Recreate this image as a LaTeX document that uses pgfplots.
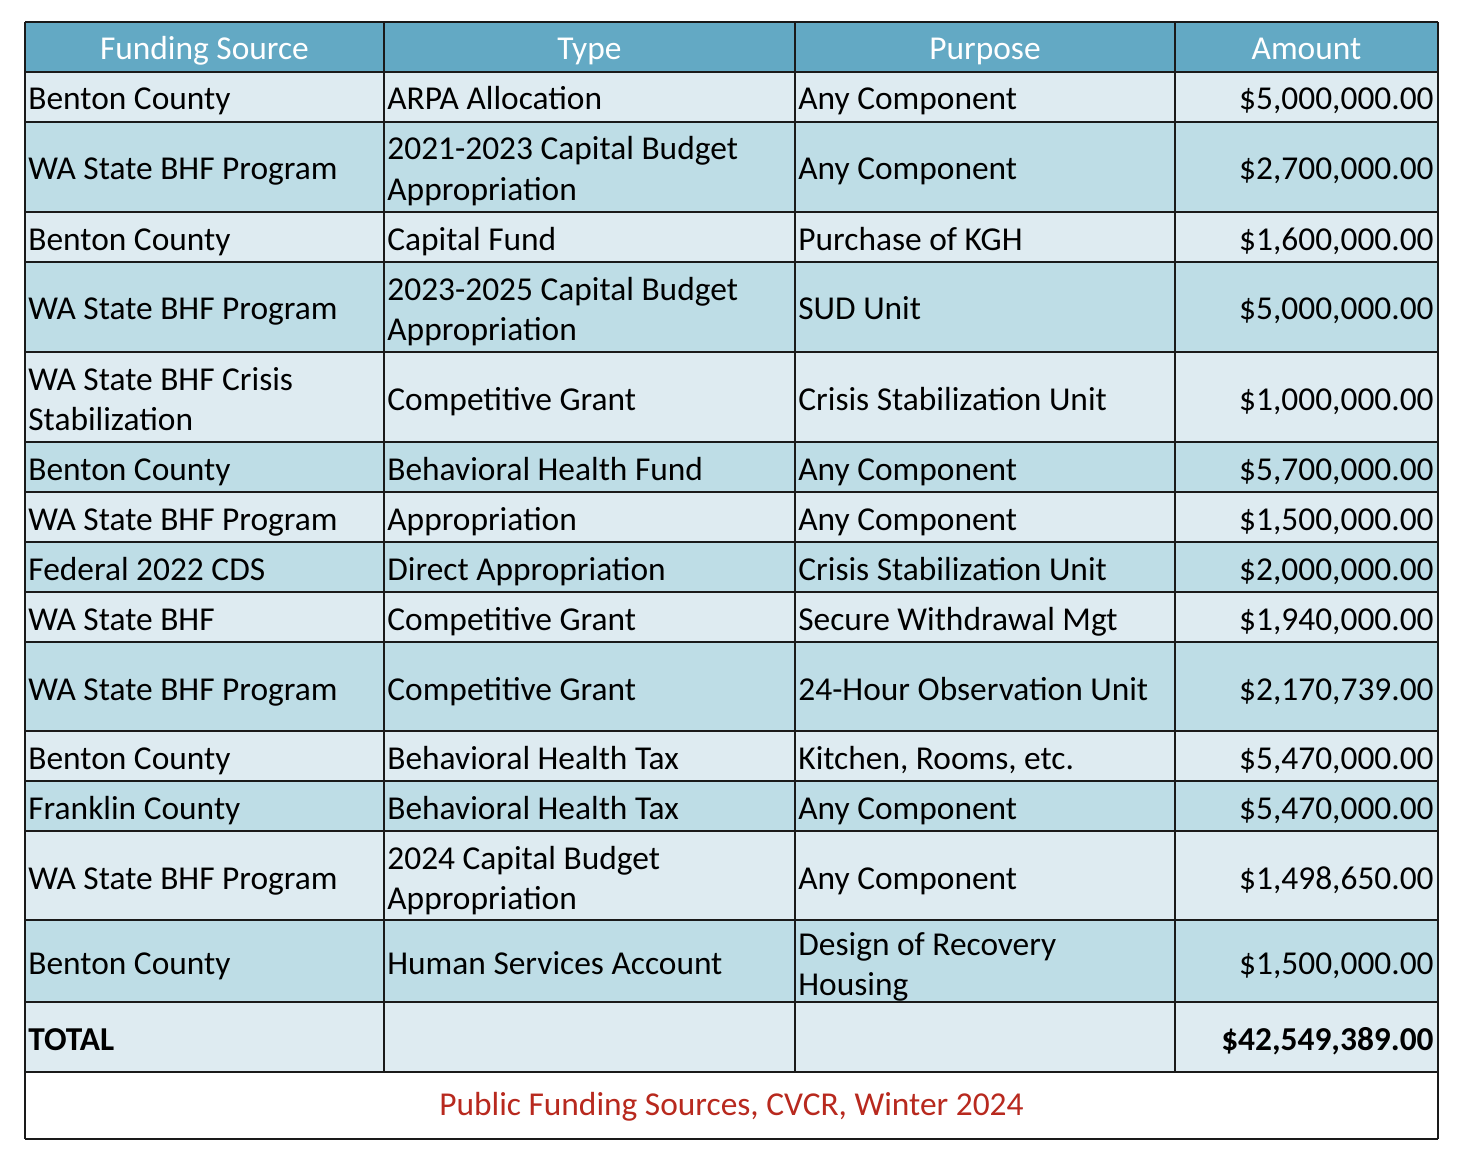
\documentclass[border=0pt]{standalone}
\usepackage{fontspec}
\setmainfont{Carlito}
\usepackage{pgfplots}
\pgfplotsset{compat=1.18}
\definecolor{headBlue}{HTML}{63A9C4}
\definecolor{rowLight}{HTML}{DEEBF1}
\definecolor{rowDark}{HTML}{BEDDE6}
\definecolor{capRed}{HTML}{B8291E}
\definecolor{ruleDark}{HTML}{1A1A1A}

% one filled band of the table, from top to bottom (pixel rows)
\newcommand{\band}[3]{\addplot[fill=#3, draw=none] coordinates {(25,#1) (1438,#1) (1438,#2) (25,#2)} -- cycle;}
\newcommand{\cellL}[3]{\node[anchor=base west, inner sep=0pt] at (axis cs:#1,#2) {#3};}
\newcommand{\cellR}[2]{\node[anchor=base east, inner sep=0pt] at (axis cs:1434,#1) {#2};}

\begin{document}
\fontsize{16.7pt}{20pt}\selectfont
\begin{tikzpicture}
\begin{axis}[
  width=729pt, height=578pt, scale only axis,
  xmin=0, xmax=1458, ymin=0, ymax=1156, y dir=reverse,
  hide axis, clip=false,
]
\addplot[draw=none, fill=white] coordinates {(0,0) (1458,0) (1458,1156) (0,1156)} -- cycle;

% bands
\band{22}{72}{headBlue}
\band{72}{122}{rowLight}
\band{122}{212}{rowDark}
\band{212}{262}{rowLight}
\band{262}{352}{rowDark}
\band{352}{442}{rowLight}
\band{442}{492}{rowDark}
\band{492}{542}{rowLight}
\band{542}{592}{rowDark}
\band{592}{642}{rowLight}
\band{642}{731}{rowDark}
\band{731}{781}{rowLight}
\band{781}{831}{rowDark}
\band{831}{920}{rowLight}
\band{920}{1002}{rowDark}
\band{1002}{1072}{rowLight}

% rules
\pgfplotsinvokeforeach{22,72,122,212,262,352,442,492,542,592,642,731,781,831,920,1002,1072,1139}{
  \addplot[ruleDark, line width=1pt] coordinates {(25,#1) (1438,#1)};
}
\pgfplotsinvokeforeach{384,795,1175}{
  \addplot[ruleDark, line width=1pt] coordinates {(#1,22) (#1,1072)};
}
\addplot[ruleDark, line width=1pt] coordinates {(25,22) (25,1139)};
\addplot[ruleDark, line width=1pt] coordinates {(1438,22) (1438,1139)};

% header
\node[anchor=base, text=white] at (axis cs:204.5,60) {Funding Source};
\node[anchor=base, text=white] at (axis cs:589.5,60) {Type};
\node[anchor=base, text=white] at (axis cs:985,60) {Purpose};
\node[anchor=base, text=white] at (axis cs:1306.5,60) {Amount};

% rows
\cellL{28}{110}{Benton County}
\cellL{387}{110}{ARPA Allocation}
\cellL{798}{110}{Any Component}
\cellR{110}{\$5,000,000.00}

\cellL{28}{180}{WA State BHF Program}
\cellL{387}{160}{2021-2023 Capital Budget}
\cellL{387}{200}{Appropriation}
\cellL{798}{180}{Any Component}
\cellR{180}{\$2,700,000.00}

\cellL{28}{250}{Benton County}
\cellL{387}{250}{Capital Fund}
\cellL{798}{250}{Purchase of KGH}
\cellR{250}{\$1,600,000.00}

\cellL{28}{320}{WA State BHF Program}
\cellL{387}{300}{2023-2025 Capital Budget}
\cellL{387}{340}{Appropriation}
\cellL{798}{320}{SUD Unit}
\cellR{320}{\$5,000,000.00}

\cellL{28}{390}{WA State BHF Crisis}
\cellL{28}{430}{Stabilization}
\cellL{387}{410}{Competitive Grant}
\cellL{798}{410}{Crisis Stabilization Unit}
\cellR{410}{\$1,000,000.00}

\cellL{28}{480}{Benton County}
\cellL{387}{480}{Behavioral Health Fund}
\cellL{798}{480}{Any Component}
\cellR{480}{\$5,700,000.00}

\cellL{28}{530}{WA State BHF Program}
\cellL{387}{530}{Appropriation}
\cellL{798}{530}{Any Component}
\cellR{530}{\$1,500,000.00}

\cellL{28}{580}{Federal 2022 CDS}
\cellL{387}{580}{Direct Appropriation}
\cellL{798}{580}{Crisis Stabilization Unit}
\cellR{580}{\$2,000,000.00}

\cellL{28}{630}{WA State BHF}
\cellL{387}{630}{Competitive Grant}
\cellL{798}{630}{Secure Withdrawal Mgt}
\cellR{630}{\$1,940,000.00}

\cellL{28}{700}{WA State BHF Program}
\cellL{387}{700}{Competitive Grant}
\cellL{798}{700}{24-Hour Observation Unit}
\cellR{700}{\$2,170,739.00}

\cellL{28}{769}{Benton County}
\cellL{387}{769}{Behavioral Health Tax}
\cellL{798}{769}{Kitchen, Rooms, etc.}
\cellR{769}{\$5,470,000.00}

\cellL{28}{819}{Franklin County}
\cellL{387}{819}{Behavioral Health Tax}
\cellL{798}{819}{Any Component}
\cellR{819}{\$5,470,000.00}

\cellL{28}{889}{WA State BHF Program}
\cellL{387}{869}{2024 Capital Budget}
\cellL{387}{909}{Appropriation}
\cellL{798}{889}{Any Component}
\cellR{889}{\$1,498,650.00}

\cellL{28}{974}{Benton County}
\cellL{387}{974}{Human Services Account}
\cellL{798}{955}{Design of Recovery}
\cellL{798}{995}{Housing}
\cellR{974}{\$1,500,000.00}

\cellL{28}{1050}{\bfseries TOTAL}
\cellR{1050}{\bfseries \$42,549,389.00}

\node[anchor=base, text=capRed] at (axis cs:731.5,1115) {Public Funding Sources, CVCR, Winter 2024};
\end{axis}
\end{tikzpicture}
\end{document}
